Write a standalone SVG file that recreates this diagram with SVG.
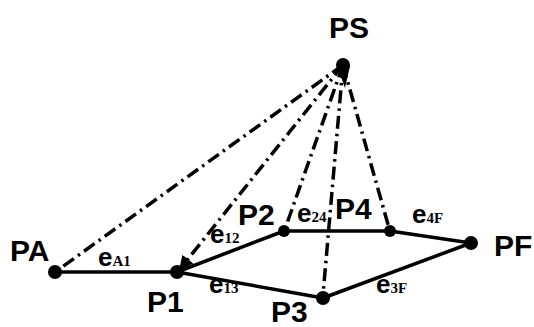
<svg xmlns="http://www.w3.org/2000/svg" width="534" height="327" viewBox="0 0 534 327">
<style>
.edge{stroke:#000;stroke-width:3.5;fill:none;stroke-linecap:round}
.dash{stroke:#000;stroke-width:3.5;fill:none;stroke-dasharray:13 5 2.5 5}
.dot{fill:#000}
.lbl{font-family:"Liberation Sans",Arial,sans-serif;font-weight:bold;font-size:30px;fill:#000}
.e{font-family:"Liberation Sans",Arial,sans-serif;font-weight:bold;font-size:26px;fill:#000}
.sub{font-family:"Liberation Serif","Times New Roman",serif;font-weight:bold;font-size:15px}
</style>
<defs>
<marker id="arr" viewBox="0 0 10 10" refX="9" refY="5" markerWidth="4" markerHeight="4" orient="auto" markerUnits="strokeWidth">
<path d="M0,0 L10,5 L0,10 z" fill="#000"/>
</marker>
</defs>
<rect width="534" height="327" fill="#fff"/>
<g id="connectors">
<line class="dash" x1="343" y1="65" x2="58" y2="270"/>
<line class="dash" x1="343" y1="65" x2="180" y2="269" marker-end="url(#arr)"/>
<line class="dash" x1="343" y1="65" x2="285" y2="229"/>
<line class="dash" x1="343" y1="65" x2="323" y2="295"/>
<line class="dash" x1="343" y1="65" x2="389" y2="228"/>
<line class="edge" x1="55" y1="272" x2="177" y2="272"/>
<line class="edge" x1="177" y1="272" x2="284" y2="231"/>
<line class="edge" x1="177" y1="272" x2="323" y2="298"/>
<line class="edge" x1="284" y1="231" x2="390" y2="231"/>
<line class="edge" x1="390" y1="231" x2="471" y2="243"/>
<line class="edge" x1="323" y1="298" x2="471" y2="243"/>
<text class="e" x="98" y="266">e<tspan class="sub">A1</tspan></text>
<text class="e" x="210" y="243">e<tspan class="sub">12</tspan></text>
<text class="e" x="209" y="293">e<tspan class="sub">13</tspan></text>
<text class="e" x="297" y="222">e<tspan class="sub">24</tspan></text>
<text class="e" x="412" y="223">e<tspan class="sub">4F</tspan></text>
<text class="e" x="376" y="293">e<tspan class="sub">3F</tspan></text>
</g>
<g id="PS"><circle class="dot" cx="343" cy="65" r="7"/><path class="dot" d="M337,66 L350,66 L345,88 Z"/><text class="lbl" x="329" y="38">PS</text></g>
<g id="PA"><circle class="dot" cx="55" cy="272" r="7"/><text class="lbl" x="10" y="261">PA</text></g>
<g id="P1"><circle class="dot" cx="177" cy="272" r="7"/><text class="lbl" x="147" y="312">P1</text></g>
<g id="P2"><circle class="dot" cx="284" cy="231" r="6"/><text class="lbl" x="238" y="225">P2</text></g>
<g id="P4"><circle class="dot" cx="390" cy="231" r="6"/><text class="lbl" x="335" y="219">P4</text></g>
<g id="PF"><circle class="dot" cx="471" cy="243" r="7"/><text class="lbl" x="494" y="256">PF</text></g>
<g id="P3"><circle class="dot" cx="323" cy="298" r="7"/><text class="lbl" x="271" y="322">P3</text></g>
</svg>
